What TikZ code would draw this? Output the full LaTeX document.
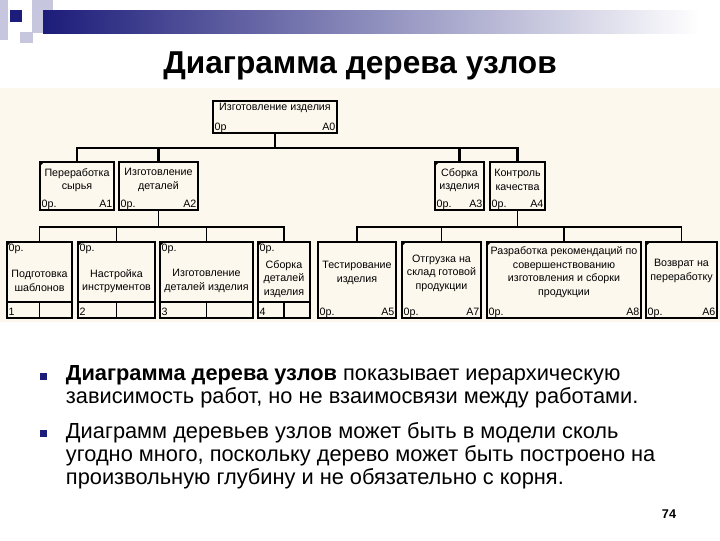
\documentclass[tikz,border=0pt]{standalone}
\usepackage{fontspec}
\setmainfont{Liberation Sans}
\usepackage{tikz}

\definecolor{navy}{HTML}{1C1C7A}
\definecolor{paper}{HTML}{FDF8EE}
\definecolor{lav}{HTML}{C6C6DE}

\begin{document}
\begin{tikzpicture}[x=0.025cm,y=-0.025cm,line width=1.4pt,
  box/.style={draw,rectangle,inner sep=0pt},
  lbl/.style={inner sep=1.2pt,font=\fontsize{7.6}{8}\selectfont},
  txt/.style={inner sep=0pt,align=center,font=\fontsize{7.6}{9.6}\selectfont},
  bus/.style={line width=2pt}]
\useasboundingbox (0,0) rectangle (720,540);
\fill[white] (0,0) rectangle (720,540);
\fill[paper] (0,88) rectangle (720,322);

% top bar
\fill[lav] (0,0) rectangle (8,40);
\fill[lav] (32,0) rectangle (53,33);
\fill[lav] (20,32) rectangle (33,43);
\shade[left color=navy,middle color=navy!55,right color=white] (43,10) rectangle (700,33);
\fill[navy] (10,10) rectangle (22,22);

\node[font=\fontsize{22.5}{26}\selectfont\bfseries] (title) at (360,66) {Диаграмма дерева узлов};

% boxes
\node[box,minimum width=3.1cm,minimum height=0.8cm] (a0) at (275,117) {};
\node[box,minimum width=1.85cm,minimum height=1.2cm] (a1) at (77,186) {};
\node[box,minimum width=1.975cm,minimum height=1.2cm] (a2) at (158.5,186) {};
\node[box,minimum width=1.225cm,minimum height=1.2cm] (a3) at (459.5,186) {};
\node[box,minimum width=1.375cm,minimum height=1.2cm] (a4) at (517.5,186) {};

\node[box,minimum width=1.625cm,minimum height=1.9cm] (b1) at (39.5,280) {};
\node[box,minimum width=1.925cm,minimum height=1.9cm] (b2) at (116.5,280) {};
\node[box,minimum width=2.325cm,minimum height=1.9cm] (b3) at (206.5,280) {};
\node[box,minimum width=1.3cm,minimum height=1.9cm] (b4) at (284,280) {};
\node[box,minimum width=1.95cm,minimum height=1.9cm] (a5) at (357,280) {};
\node[box,minimum width=1.975cm,minimum height=1.9cm] (a7) at (441.5,280) {};
\node[box,minimum width=3.85cm,minimum height=1.9cm] (a8) at (564,280) {};
\node[box,minimum width=1.775cm,minimum height=1.9cm] (a6) at (681.5,280) {};

% texts
\node[txt] (t0) at (275,108) {Изготовление изделия};
\node[txt] (t1) at (77,180) {Переработка\\сырья};
\node[txt] (t2) at (158.5,180) {Изготовление\\деталей};
\node[txt] (t3) at (459.5,180) {Сборка\\изделия};
\node[txt] (t4) at (517.5,180) {Контроль\\качества};
\node[txt] (s1) at (39.5,281) {Подготовка\\шаблонов};
\node[txt] (s2) at (116.5,281) {Настройка\\инструментов};
\node[txt] (s3) at (206.5,281) {Изготовление\\деталей изделия};
\node[txt] (s4) at (284,279) {Сборка\\деталей\\изделия};
\node[txt] (t5) at (357,273) {Тестирование\\изделия};
\node[txt] (t7) at (441.5,273) {Отгрузка на\\склад готовой\\продукции};
\node[txt] (t8) at (564,272) {Разработка рекомендаций по\\совершенствованию\\изготовления и сборки\\продукции};
\node[txt] (t6) at (681.5,271) {Возврат на\\переработку};

\node[lbl,anchor=base west,yshift=2.8pt] (c0) at (a0.south west) {0р};
\node[lbl,anchor=base east,yshift=2.8pt] (n0) at (a0.south east) {A0};
\foreach \n/\k in {a1/A1,a2/A2,a3/A3,a4/A4,a5/A5,a7/A7,a8/A8,a6/A6} {
  \node[lbl,anchor=base west,yshift=2.8pt] (c\k) at (\n.south west) {0р.};
  \node[lbl,anchor=base east,yshift=2.8pt] (n\k) at (\n.south east) {\k};
}

% numbered boxes
\coordinate (rowB) at (0,302);
\foreach \n/\k in {b1/1,b2/2,b3/3,b4/4} {
  \draw (\n.west |- rowB) -- (\n.east |- rowB);
  \draw (\n.south |- rowB) -- (\n.south);
  \node[lbl,anchor=base west,yshift=2.8pt] (k\k) at (\n.south west) {\k};
  \node[lbl,anchor=north west] (p\k) at (\n.north west) {0р.};
}

% corner marks
\foreach \n in {a1,a3,b1,b2,b3,b4,a7,a8,a6}
  \fill (\n.north west) -- ++(6,0) -- ++(-6,6) -- cycle;

% connectors
\coordinate (busA) at (0,148);
\draw[bus] (a0.south) -- (a0.south |- busA);
\draw[bus] (a1.north) -- (a1.north |- busA) -- (a4.north |- busA) -- (a4.north);
\draw[bus] (a2.north) -- (a2.north |- busA);
\draw[bus] (a3.north) -- (a3.north |- busA);

\coordinate (busB) at (0,227);
\draw (a2.south) -- (a2.south |- busB);
\draw (b1.north) -- (b1.north |- busB) -- (b4.north |- busB) -- (b4.north);
\draw (b2.north) -- (b2.north |- busB);
\draw (b3.north) -- (b3.north |- busB);
\draw (a4.south) -- (a4.south |- busB);
\draw (a5.north) -- (a5.north |- busB) -- (a6.north |- busB) -- (a6.north);
\draw (a7.north) -- (a7.north |- busB);
\draw (a8.north) -- (a8.north |- busB);

% bullets
\fill[navy] (40,373) rectangle (47,380);
\fill[navy] (40,430) rectangle (47,437);
\node[anchor=north west,align=left,inner sep=0pt,font=\fontsize{15.5}{16.3}\selectfont] (para1) at (65,365)
  {\textbf{Диаграмма дерева узлов} показывает иерархическую\\зависимость работ, но не взаимосвязи между работами.};
\node[anchor=north west,align=left,inner sep=0pt,font=\fontsize{15.5}{16.3}\selectfont] (para2) at (65,422)
  {Диаграмм деревьев узлов может быть в модели сколь\\угодно много, поскольку дерево может быть построено на\\произвольную глубину и не обязательно с корня.};

\node[font=\fontsize{9}{10}\selectfont\bfseries] (page) at (669,514) {74};
\end{tikzpicture}
\end{document}
